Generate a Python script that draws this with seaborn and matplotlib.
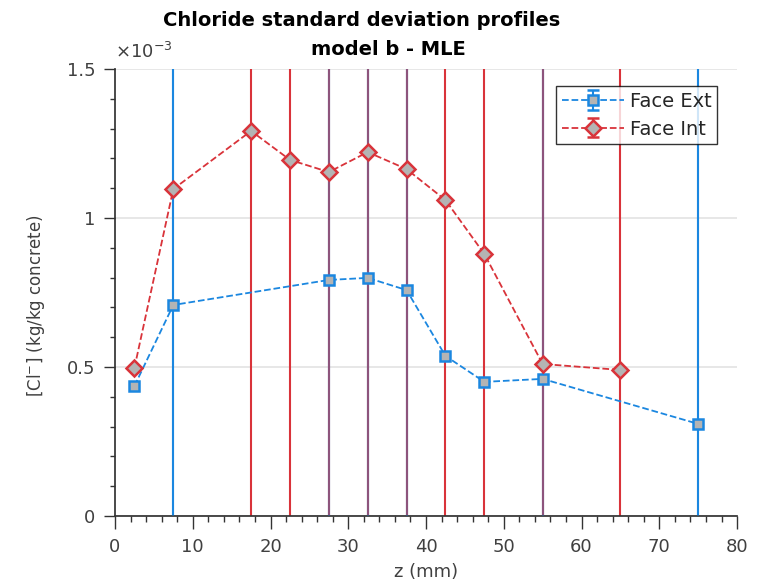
import numpy as np
import pandas as pd
import matplotlib
matplotlib.use("Agg")
import matplotlib.pyplot as plt
from matplotlib.ticker import MultipleLocator, FuncFormatter
import seaborn as sns

# --- data (values in units of 1e-3 kg/kg) ---
z_ext = [2.5, 7.5, 27.5, 32.5, 37.5, 42.5, 47.5, 55, 75]
sd_ext = [0.436, 0.708, 0.792, 0.799, 0.758, 0.537, 0.450, 0.460, 0.309]
err_ext = [np.nan, 5, 5, 5, 5, np.nan, np.nan, 5, 5]

z_int = [2.5, 7.5, 17.5, 22.5, 27.5, 32.5, 37.5, 42.5, 47.5, 55, 65]
sd_int = [0.497, 1.097, 1.292, 1.195, 1.154, 1.221, 1.164, 1.060, 0.879, 0.510, 0.490]
err_int = [np.nan, np.nan, 5, 5, 5, 5, 5, 5, 5, 5, 5]

BLUE = "#1b87e0"
RED = "#d9333a"
FACE = "#b4b4b4"

sns.set_theme(style="ticks")
plt.rcParams.update({
    "font.family": ["DejaVu Sans"],
    "axes.edgecolor": "#333333",
    "xtick.color": "#333333",
    "ytick.color": "#333333",
    "xtick.labelcolor": "#404040",
    "ytick.labelcolor": "#404040",
})

fig = plt.figure(figsize=(7.63, 5.87), dpi=100)
ax = fig.add_axes([0.1507, 0.121, 0.8153, 0.7615])

df_ext = pd.DataFrame({"z": z_ext, "sd": sd_ext})
df_int = pd.DataFrame({"z": z_int, "sd": sd_int})

# error bars (huge, run past the axes)
ax.errorbar(z_ext, sd_ext, yerr=err_ext, fmt="none", ecolor=BLUE, elinewidth=1.5, zorder=1)
ax.errorbar(z_int, sd_int, yerr=err_int, fmt="none", ecolor=RED, elinewidth=1.5, zorder=2)
ax.errorbar(z_ext, sd_ext, yerr=err_ext, fmt="none", ecolor=BLUE, elinewidth=1.5, alpha=0.4, zorder=3)

sns.lineplot(data=df_ext, x="z", y="sd", ax=ax, color=BLUE, linestyle="--", linewidth=1.3,
             marker="s", markersize=7, markerfacecolor=FACE, markeredgecolor=BLUE,
             markeredgewidth=1.8, zorder=4)
sns.lineplot(data=df_int, x="z", y="sd", ax=ax, color=RED, linestyle="--", linewidth=1.3,
             marker="D", markersize=8, markerfacecolor=FACE, markeredgecolor=RED,
             markeredgewidth=1.8, zorder=5)

# legend proxies
h_ext = ax.errorbar([np.nan], [np.nan], yerr=[np.nan], fmt="--s", color=BLUE, ecolor=BLUE,
                    mfc=FACE, mec=BLUE, ms=7, mew=1.8, lw=1.3, elinewidth=1.5, capsize=4.5)
h_int = ax.errorbar([np.nan], [np.nan], yerr=[np.nan], fmt="--D", color=RED, ecolor=RED,
                    mfc=FACE, mec=RED, ms=8, mew=1.8, lw=1.3, elinewidth=1.5, capsize=4.5)
leg = ax.legend([h_ext, h_int], ["Face Ext", "Face Int"], loc="upper right",
                bbox_to_anchor=(0.968, 0.962), fontsize=14, frameon=True, fancybox=False,
                edgecolor="black", handlelength=3.2, borderpad=0.3, labelspacing=0.45,
                handletextpad=0.3, borderaxespad=0)
leg.get_frame().set_linewidth(1.0)

ax.set_xlim(0, 80)
ax.set_ylim(0, 1.5)
ax.xaxis.set_major_locator(MultipleLocator(10))
ax.xaxis.set_minor_locator(MultipleLocator(2))
ax.yaxis.set_major_locator(MultipleLocator(0.5))
ax.yaxis.set_minor_locator(MultipleLocator(0.1))
ax.yaxis.set_major_formatter(FuncFormatter(lambda v, p: f"{v:g}"))
ax.tick_params(axis="x", which="major", direction="out", length=9, width=1, pad=7, labelsize=13)
ax.tick_params(axis="x", which="minor", direction="out", length=4.5, width=1)
ax.tick_params(axis="y", which="major", direction="out", length=8, width=1, pad=6, labelsize=13)
ax.tick_params(axis="y", which="minor", direction="out", length=3.5, width=1)
ax.grid(axis="y", which="major", color="#e3e3e3", linewidth=1.2)
ax.set_axisbelow(True)
sns.despine(ax=ax)

ax.set_xlabel("z (mm)", fontsize=13, color="#404040", labelpad=5)
ax.set_ylabel("[Cl$^{-}$] (kg/kg concrete)", fontsize=12, color="#404040")
ax.yaxis.set_label_coords(-0.109, 0.47)

ax.text(0.0, 1.015, r"$\times10^{-3}$", transform=ax.transAxes, fontsize=13,
        color="#404040", ha="left", va="bottom")
ax.text(0.397, 1.088, "Chloride standard deviation profiles", transform=ax.transAxes,
        fontsize=14, fontweight="bold", color="black", ha="center", va="bottom")
ax.text(0.439, 1.022, "model b - MLE", transform=ax.transAxes,
        fontsize=14, fontweight="bold", color="black", ha="center", va="bottom")

fig.savefig("out.png", dpi=100)
